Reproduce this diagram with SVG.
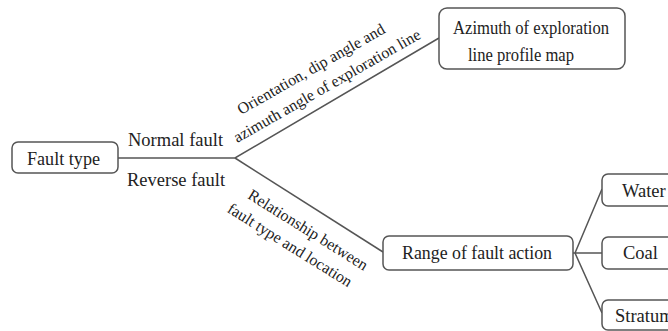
<svg xmlns="http://www.w3.org/2000/svg" width="668" height="331" viewBox="0 0 668 331">
<style>
.box{fill:#fff;stroke:#555;stroke-width:1.5}
.t{font-family:"Liberation Serif","Times New Roman",serif;fill:#222;font-size:18.5px}
.s{font-family:"Liberation Serif","Times New Roman",serif;fill:#222;font-size:16px}
.c{fill:none;stroke:#555;stroke-width:1.5}
</style>
<rect width="668" height="331" fill="#fff"/>
<g id="connectors">
<path class="c" d="M118,158 H235 L439,38"/>
<path class="c" d="M235,158 L383,252"/>
<path class="c" d="M573,253 H602 M575,253 L602,189 M575,253 L602,313"/>
</g>
<g id="labels">
<text class="t" x="128" y="146">Normal fault</text>
<text class="t" x="127" y="186">Reverse fault</text>
<g transform="translate(235,157) rotate(-29.7)">
<text class="s" x="26" y="-33.5">Orientation, dip angle and</text>
<text class="s" x="9" y="-11">azimuth angle of exploration line</text>
</g>
<g transform="translate(235,158) rotate(32)">
<text class="s" x="31" y="27.5">Relationship between</text>
<text class="s" x="21" y="50">fault type and location</text>
</g>
</g>
<g id="fault-type">
<rect class="box" x="12" y="142" width="106" height="31" rx="6"/>
<text class="t" x="27" y="165" textLength="73" lengthAdjust="spacingAndGlyphs">Fault type</text>
</g>
<g id="azimuth">
<rect class="box" x="439" y="8" width="186" height="61" rx="8"/>
<text class="t" x="453" y="34" textLength="156" lengthAdjust="spacingAndGlyphs">Azimuth of exploration</text>
<text class="t" x="468" y="61" textLength="106" lengthAdjust="spacingAndGlyphs">line profile map</text>
</g>
<g id="range">
<rect class="box" x="383" y="236" width="190" height="34" rx="6"/>
<text class="t" x="402" y="259" textLength="150" lengthAdjust="spacingAndGlyphs">Range of fault action</text>
</g>
<g id="water">
<rect class="box" x="602" y="174" width="90" height="32" rx="6"/>
<text class="t" x="622" y="197">Water</text>
</g>
<g id="coal">
<rect class="box" x="602" y="237" width="90" height="32" rx="6"/>
<text class="t" x="623" y="259">Coal</text>
</g>
<g id="stratum">
<rect class="box" x="602" y="300" width="90" height="30" rx="6"/>
<text class="t" x="615" y="322">Stratum</text>
</g>
</svg>
